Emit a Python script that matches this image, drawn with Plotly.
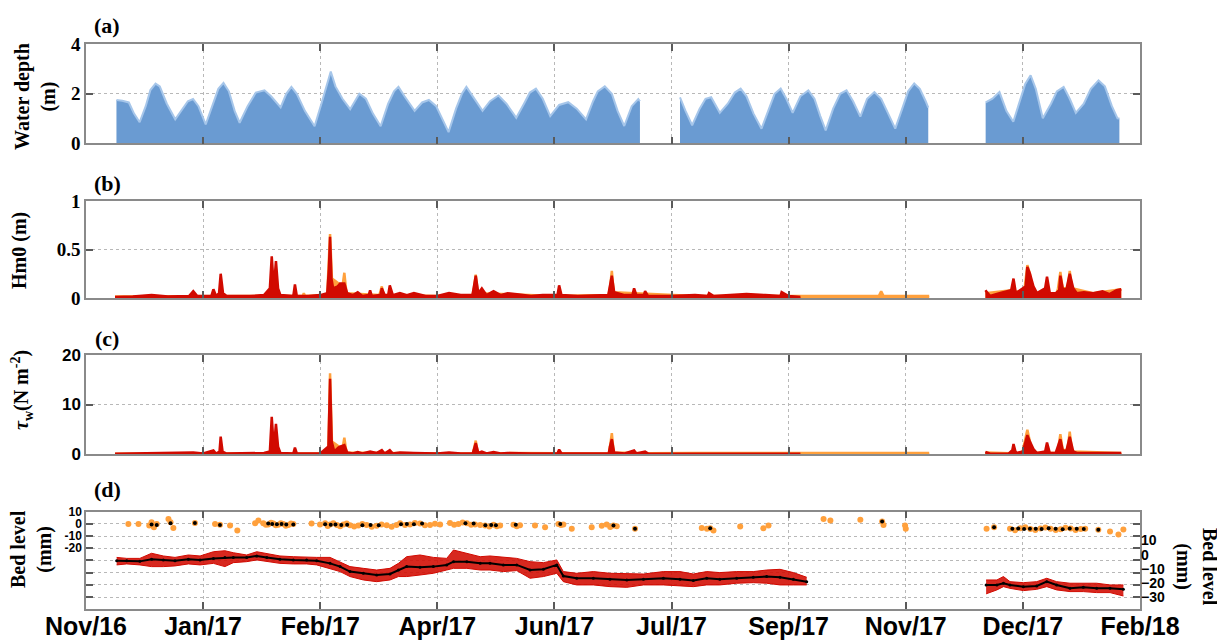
import pandas as pd
import plotly.graph_objects as go

# Time axis: days counted from 17 Nov 2016 (first MATLAB datetick), None = data gap
T0 = pd.Timestamp('2016-11-17')

TICK_DATES = ['2016-11-17', '2017-01-06', '2017-02-25', '2017-04-16', '2017-06-05',
              '2017-07-25', '2017-09-13', '2017-11-02', '2017-12-22', '2018-02-10']
TICK_LABELS = ['Nov/16', 'Jan/17', 'Feb/17', 'Apr/17', 'Jun/17',
               'Jul/17', 'Sep/17', 'Nov/17', 'Dec/17', 'Feb/18']

# (a) water depth - upper envelope of the tide record (m)
DEPTH_DAY = [13.0, 15.5, 18.3, 20.5, 22.9, 25.5, 27.5, 29.7, 31.5, 34.5, 38.1, 41.5, 43.5, 45.7, 48.0,
             51.1, 54.5, 56.5, 58.7, 61.0, 63.5, 65.6, 69.0, 72.5, 76.2, 79.0, 83.1, 85.5, 87.7, 90.0,
             93.5, 97.6, 100.5, 102.5, 104.5, 106.5, 109.5, 112.8, 116.7, 119.5, 122.5, 125.8, 129.0,
             131.5, 133.4, 136.0, 140.3, 143.5, 146.4, 149.5, 152.0, 154.8, 158.0, 160.5, 162.4,
             165.0, 169.3, 172.5, 176.1, 179.5, 183.7, 187.0, 189.5, 192.1, 195.0, 198.2, 202.0,
             205.9, 209.5, 213.5, 216.5, 218.5, 221.5, 224.5, 227.0, 229.8, 233.0, 235.8, 236.5, None,
             253.6, 256.0, 258.8, 262.0, 264.5, 266.9, 270.6, 274.0, 277.0, 279.5, 282.0, 285.0,
             288.4, 291.5, 294.0, 296.6, 299.0, 301.7, 305.0, 308.4, 311.0, 313.5, 315.8, 319.0,
             322.0, 324.7, 327.5, 330.6, 333.5, 336.6, 339.5, 342.5, 345.5, 348.5, 351.0, 353.6,
             356.0, 358.5, 359.6, None,
             384.1, 387.0, 390.0, 393.0, 395.9, 399.0, 401.0, 403.3, 405.5, 408.5, 412.0, 414.5,
             417.4, 420.0, 422.6, 426.0, 429.0, 432.3, 435.0, 438.0, 440.4, 441.2]
DEPTH_M = [1.75, 1.72, 1.65, 1.20, 0.85, 1.50, 2.15, 2.41, 2.30, 1.60, 0.97, 1.45, 1.70, 1.79, 1.50,
           0.76, 1.70, 2.20, 2.44, 2.10, 1.30, 0.83, 1.50, 2.05, 2.14, 1.90, 1.45, 2.00, 2.28, 2.00,
           1.30, 0.69, 1.60, 2.30, 2.90, 2.30, 1.80, 1.38, 2.00, 1.80, 1.20, 0.69, 1.60,
           2.10, 2.28, 1.90, 1.31, 1.65, 1.75, 1.50, 1.00, 0.45, 1.40, 2.00, 2.28,
           1.90, 1.31, 1.70, 1.93, 1.60, 1.03, 1.60, 2.05, 2.21, 1.80, 1.10, 1.55,
           1.66, 1.40, 0.97, 1.70, 2.10, 2.30, 2.00, 1.30, 0.70, 1.50, 1.79, 1.70, None,
           1.86, 1.30, 0.73, 1.40, 1.80, 1.86, 1.23, 1.60, 2.05, 2.21, 1.90, 1.20,
           0.59, 1.40, 2.00, 2.21, 1.80, 1.23, 1.90, 2.14, 1.80, 1.10, 0.52, 1.40,
           2.00, 2.14, 1.70, 1.08, 1.80, 2.07, 1.80, 1.20, 0.59, 1.40, 2.10, 2.42,
           2.20, 1.70, 1.44, None,
           1.65, 1.80, 2.07, 1.30, 0.87, 1.80, 2.40, 2.75, 2.20, 1.01, 1.60, 2.10,
           2.28, 1.80, 1.23, 1.60, 2.20, 2.54, 2.30, 1.50, 1.01, 1.00]

# (b) significant wave height Hm0 (m)
HM0_RED_DAY = [12.4, 20, 28, 35, 44, 45.8, 47.5, 53.5, 54.4, 55.5, 56.8, 57.5, 58.5, 60, 70, 76,
               78.5, 79.3, 80.2, 81.1, 82, 83, 88.5, 89.2, 90, 95, 100, 103, 103.7, 104.2, 104.8,
               105.5, 107.5, 108.5, 110.3, 111.5, 114, 116, 118, 120.7, 121.3, 122, 125.7, 126.3,
               127.5, 129, 129.7, 131, 134, 137, 140, 145, 150, 155, 160, 165, 165.5, 166.4, 167.5,
               169, 171, 174, 177, 180, 184, 190, 195, 201.3, 202, 203, 210, 220, 223, 223.5, 224.5,
               225.5, 230, 233.3, 234, 235, 238.2, 238.7, 240, 250, 260, 265.5, 266, 268, 275, 282,
               290, 296.5, 297, 300, 305, None,
               384, 386, 390, 395, 396, 397, 400, 401.2, 401.9, 403, 404.5, 406, 409.5, 410.3, 411.5,
               414, 415.5, 416, 417, 418.5, 420, 421.5, 423, 426, 430, 434, 437, 440, 442]
HM0_RED = [0.01, 0.015, 0.03, 0.015, 0.02, 0.07, 0.02, 0.02, 0.09, 0.02, 0.05, 0.25, 0.05, 0.02, 0.02, 0.03,
           0.10, 0.43, 0.10, 0.38, 0.10, 0.03, 0.02, 0.14, 0.02, 0.02, 0.03, 0.05, 0.30, 0.63, 0.20,
           0.10, 0.12, 0.15, 0.15, 0.05, 0.03, 0.06, 0.02, 0.03, 0.08, 0.02, 0.03, 0.10,
           0.03, 0.03, 0.13, 0.03, 0.05, 0.03, 0.05, 0.02, 0.02, 0.05, 0.03, 0.03, 0.10, 0.23, 0.05,
           0.10, 0.03, 0.07, 0.03, 0.05, 0.04, 0.02, 0.03, 0.03, 0.13, 0.03, 0.02, 0.03, 0.03, 0.10, 0.23,
           0.06, 0.03, 0.03, 0.10, 0.03, 0.03, 0.07, 0.02, 0.02, 0.03, 0.02, 0.05, 0.02, 0.03, 0.04,
           0.03, 0.02, 0.06, 0.02, 0.01, None,
           0.08, 0.02, 0.05, 0.08, 0.20, 0.05, 0.10, 0.12, 0.32, 0.25, 0.12, 0.05, 0.10, 0.22, 0.05,
           0.05, 0.08, 0.23, 0.10, 0.08, 0.25, 0.10, 0.05, 0.06, 0.05, 0.07, 0.04, 0.08, 0.09]
HM0_ORANGE_DAY = [12.4, 40, 70, 92.5, 93, 93.5, 103, 103.5, 104.2, 105, 109.5, 110.3, 111.2, 125, 125.5,
                  126.3, 127, 150, 165, 165.6, 166.4, 167.3, 200, 223, 223.7, 224.5, 225.3, 260, 300,
                  310, 320, 330, 338.5, 339.5, 340.5, 350, 360, None,
                  384, 395, 400.5, 401, 401.9, 403, 404, 414.5, 415, 416, 417, 419, 420, 421, 430, 442]
HM0_ORANGE = [0.015, 0.02, 0.02, 0.02, 0.05, 0.02, 0.03, 0.30, 0.66, 0.20, 0.12, 0.26, 0.05, 0.03, 0.05,
              0.12, 0.03, 0.02, 0.03, 0.10, 0.24, 0.05, 0.02, 0.03, 0.10, 0.28, 0.06, 0.02, 0.02,
              0.02, 0.02, 0.02, 0.02, 0.07, 0.02, 0.02, 0.02, None,
              0.05, 0.08, 0.05, 0.15, 0.34, 0.25, 0.05, 0.05, 0.10, 0.27, 0.10, 0.10, 0.28, 0.10, 0.05, 0.09]

# (c) wave bed shear stress tau_w (N m-2)
TAU_RED_DAY = [12.4, 25, 40, 45.8, 50, 54.4, 55.5, 57, 57.5, 58.3, 60, 70, 76, 78.5, 79.3, 80.2, 81.1,
               82, 83, 88.5, 89.2, 90, 100, 103.5, 104.2, 104.9, 106, 107.8, 108.5, 110.3, 111.5,
               114, 116, 118, 121.3, 124, 126.3, 127.5, 129.7, 131, 134, 140, 150, 155, 160, 165.1,
               165.6, 166.4, 167.5, 169, 171, 174, 177, 180, 190, 201.3, 202, 203, 210, 223.2, 223.7,
               224.5, 225.5, 230, 234, 235, 238.7, 240, 250, 270, 300, 305, None,
               384, 386, 394, 395.5, 396, 397, 400, 401.9, 403, 404.5, 406, 409.5, 410.3, 411.5,
               414, 416, 417, 418.5, 420, 421.5, 423, 428, 434, 440, 442]
TAU_RED = [0.05, 0.1, 0.15, 0.3, 0.1, 0.7, 0.1, 0.5, 3.5, 0.5, 0.1, 0.1, 0.2, 0.5, 7.5, 1.0, 6.1,
           1.5, 0.2, 0.1, 1.3, 0.1, 0.1, 1.5, 15.2, 2.5, 0.5, 1.3, 1.5, 1.8, 0.3,
           0.1, 0.4, 0.1, 0.5, 0.2, 0.8, 0.1, 0.8, 0.1, 0.3, 0.2, 0.1, 0.3, 0.1, 0.1,
           1.0, 2.2, 0.2, 0.5, 0.1, 0.4, 0.1, 0.2, 0.1, 0.1, 0.9, 0.1, 0.1, 0.1, 1.5,
           3.0, 0.3, 0.1, 0.7, 0.1, 0.5, 0.1, 0.05, 0.1, 0.1, 0.05, None,
           0.4, 0.05, 0.1, 0.8, 2.0, 0.2, 0.5, 3.8, 2.5, 1.0, 0.2, 0.5, 2.3, 0.2,
           0.2, 3.0, 0.8, 0.5, 3.5, 0.5, 0.2, 0.2, 0.3, 0.3, 0.2]
TAU_ORANGE_DAY = [12.4, 40, 70, 103.0, 103.5, 104.2, 105, 109.5, 110.3, 111.2, 150, 165.1, 165.6, 166.4,
                  167.3, 200, 223.2, 223.7, 224.5, 225.3, 240, 260, 280, 300, 320, 340, 360, None,
                  384, 399.5, 400, 401.9, 403, 404, 414.5, 415, 416, 417, 419, 420, 421, 442]
TAU_ORANGE = [0.05, 0.1, 0.1, 0.1, 1.5, 16.3, 2.5, 1.0, 3.3, 0.3, 0.1, 0.1, 1.0, 2.7,
              0.2, 0.1, 0.1, 1.5, 4.2, 0.3, 0.15, 0.2, 0.2, 0.2, 0.2, 0.2, 0.2, None,
              0.3, 0.1, 0.8, 4.9, 2.5, 0.3, 0.2, 0.8, 4.0, 0.8, 0.8, 4.5, 0.5, 0.2]

# (d) bed level, upper site (left axis, mm): single readings and daily means
BED_ORANGE_DAY = [18.1, 22.4, 27.0, 28.0, 29.0, 30.2, 35.2, 36.1, 37.3, 46.5, 55.1, 57.2, 61.5, 64.6,
                  72.2, 73.6, 75.7, 76.8, 77.8, 79.0, 80.0, 81.0, 82.1, 83.2, 84.2, 85.3, 86.4, 87.5,
                  88.5, 96.3, 99.9, 102.1, 103.2, 104.2, 105.6, 107.1, 108.5, 109.9, 111.3, 112.7,
                  114.5, 116.3, 118.0, 119.8, 122.0, 124.1, 126.2, 128.4, 130.5, 132.6, 134.1, 136.2,
                  138.3, 140.4, 142.6, 144.7, 146.9, 149.0, 151.2, 155.4, 157.2, 159.0, 160.8, 162.6,
                  164.4, 166.1, 168.3, 170.4, 172.2, 174.0, 175.4, 176.8, 182.5, 183.9, 185.3, 191.7,
                  196.0, 201.7, 202.8, 203.8, 207.4, 215.9, 220.2, 222.3, 223.8, 225.2, 226.6, 234.4,
                  262.9, 265.1, 266.5, 267.9, 279.3, 289.2, 291.4, 314.9, 317.8, 330.6, 339.9, 340.5,
                  349.7, 350.0, 384.5, 387.7, 394.5, 396.7, 398.9, 401.0, 403.2, 405.3, 407.5, 409.6,
                  411.8, 414.0, 416.1, 418.2, 420.4, 422.5, 424.7, 426.6, 432.2, 437.2, 440.8, 442.9]
BED_ORANGE = [0.0, 0.0, -1.4, 1.3, -2.7, 0.0, 4.0, 1.3, -3.3, 0.8, 0.0, -0.8, -1.4, -5.4,
              0.5, 2.7, 0.5, -0.8, -0.5, 1.0, 0.3, -1.2, -0.8, 0.6, 0.0, -1.5, -1.0, 0.4,
              0.0, 0.3, -0.5, 0.5, -1.8, -0.5, 0.6, -1.0, -2.0, -0.5, 0.3, -1.2,
              -2.2, -1.4, 0.0, -1.0, -2.4, -1.5, -0.4, -1.2, -2.3, -1.0, 0.5, -1.0,
              -0.5, 0.8, 0.3, -1.2, -1.0, 0.2, -0.5, 0.8, -0.8, 0.0, 1.2, 0.5,
              -0.8, -0.5, -1.0, -1.4, -2.2, -0.8, -2.0, -1.4, -0.8, -2.0, -1.2, -1.4,
              -2.7, 0.0, -1.0, -0.5, -4.0, -2.7, -1.5, -0.5, -2.6, -1.4, -2.0, -4.0,
              -3.3, -4.0, -3.5, -5.4, -2.2, -3.5, -1.4, 4.0, 2.7, 3.3, 1.9, -1.0,
              -1.4, -4.0, -4.0, -2.7, -4.0, -5.2, -3.5, -2.8, -4.2, -5.0, -3.8, -2.9,
              -4.0, -5.1, -4.5, -3.2, -3.8, -5.0, -4.2, -4.0, -4.9, -6.2, -8.7, -4.6]
BED_ORANGE_MEAN_DAY = [28.0, 30.2, 36.1, 46.5, 57.2, 77.8, 79.5, 81.5, 83.5, 85.5, 88.5, 102.1, 104.5,
                       106.5, 109.0, 111.5, 118.0, 121.5, 125.0, 134.5, 137.0, 140.0, 143.5, 162.0,
                       165.5, 170.5, 173.0, 175.0, 183.5, 202.5, 225.2, 234.4, 266.5, 339.9, 387.7,
                       395.5, 398.0, 400.5, 403.0, 405.5, 408.0, 411.0, 414.0, 417.0, 420.0, 423.0,
                       426.0, 432.2]
BED_ORANGE_MEAN = [-0.5, -1.0, 0.5, 0.8, -1.0, 0.3, 0.0, -0.3, 0.0, -0.5, -0.5, -0.3, -0.8,
                   -0.5, -1.0, -0.8, -1.2, -1.0, -1.2, -0.3, 0.0, -0.3, 0.3, 0.5,
                   0.3, -1.2, -1.0, -1.2, -0.8, 0.0, -1.4, -4.0, -3.5, 1.9, -2.7,
                   -4.0, -3.8, -4.2, -4.0, -3.9, -4.1, -3.6, -4.0, -4.3, -3.8, -4.0,
                   -4.2, -4.9]

# (d) bed level, lower site (right axis, mm): daily mean with spread of single readings
BED_RED_DAY = [13.1, 17.4, 23.0, 28.0, 33.0, 38.0, 43.7, 48.7, 54.4, 59.3, 62.9, 68.6, 72.9, 77.2,
               82.8, 88.5, 94.2, 98.5, 104.2, 108.5, 112.7, 118.4, 124.1, 129.8, 133.4, 136.9,
               142.6, 148.3, 154.0, 156.9, 162.6, 168.3, 172.5, 178.2, 183.9, 189.6, 195.3, 201.0,
               203.8, 209.5, 216.6, 223.7, 230.9, 238.0, 246.5, 253.6, 259.3, 265.0, 270.6, 277.8,
               284.9, 290.6, 296.3, 302.0, 307.7, None,
               384.3, 388.9, 391.7, 394.5, 400.2, 405.9, 410.2, 414.4, 420.1, 425.8, 431.5, 437.2,
               442.9]
BED_RED_MEAN = [-4.2, -4.2, -4.7, -3.2, -3.7, -4.2, -3.2, -3.7, -2.6, -1.9, -1.9, -1.9, -0.9, -1.9,
                -3.2, -3.7, -3.7, -4.2, -6.1, -8.4, -11.9, -13.1, -14.3, -13.6, -10.8, -8.4,
                -8.9, -8.4, -7.2, -4.9, -4.9, -6.1, -6.1, -7.2, -7.2, -10.8, -10.3, -7.2,
                -15.0, -16.6, -16.6, -17.3, -17.8, -17.3, -16.6, -17.3, -18.2, -16.6, -17.3, -16.6,
                -15.9, -15.4, -15.9, -17.3, -19.0, None,
                -21.3, -21.3, -20.1, -21.3, -22.5, -22.0, -19.0, -21.3, -23.7, -23.0, -23.7, -23.7,
                -24.4]
BED_RED_LOW = [-7.2, -6.5, -7.2, -8.4, -8.4, -7.9, -6.5, -7.2, -6.1, -8.4, -5.6, -4.9, -3.7, -4.9,
               -6.1, -6.5, -6.5, -7.2, -9.6, -11.9, -15.4, -17.8, -19.0, -17.8, -15.4, -15.4,
               -14.3, -13.1, -10.8, -9.6, -9.6, -10.8, -10.8, -11.9, -11.2, -16.6, -15.4, -13.1,
               -19.0, -21.3, -21.3, -22.5, -23.0, -21.3, -21.3, -22.0, -22.5, -21.3, -21.3, -20.1,
               -19.7, -20.1, -21.3, -21.3, -21.3, None,
               -27.6, -24.8, -22.5, -23.7, -25.3, -24.4, -22.5, -24.8, -26.0, -26.0, -26.7, -26.7,
               -29.1]
BED_RED_HIGH = [-1.9, -2.6, -2.6, 1.0, -0.9, -1.9, -0.2, -0.9, 2.1, 2.8, 1.4, -0.2, 2.1, 1.0,
                -0.9, -1.4, -1.9, -1.9, -1.9, -4.9, -8.4, -9.6, -10.8, -9.6, -6.1, -1.4,
                -0.2, -1.9, -2.6, 3.3, 1.0, -1.4, -0.9, -1.9, -2.6, -4.9, -5.6, -3.7,
                -11.9, -13.1, -11.9, -13.1, -13.6, -13.6, -11.9, -11.9, -13.6, -11.9, -12.6, -11.9,
                -11.9, -10.8, -10.3, -12.6, -15.9, None,
                -17.8, -17.8, -15.4, -19.0, -19.7, -19.0, -16.6, -19.0, -20.1, -20.1, -20.1, -21.3,
                -21.3]

BLUE = '#6a9bd2'
BLUE_EDGE = '#a6c6ea'
RED = '#d10a00'
ORANGE = '#ffa03c'


def to_dates(days):
    return [None if d is None else T0 + pd.Timedelta(days=d) for d in days]


def pieces(days):
    # index lists of the continuous stretches between None gaps
    out, cur = [], []
    for i, d in enumerate(days):
        if d is None:
            if cur:
                out.append(cur)
            cur = []
        else:
            cur.append(i)
    if cur:
        out.append(cur)
    return out


fig = go.Figure()

# (a) water depth
for idx in pieces(DEPTH_DAY):
    fig.add_trace(go.Scatter(x=to_dates([DEPTH_DAY[i] for i in idx]), y=[DEPTH_M[i] for i in idx],
                             mode='lines', fill='tozeroy', fillcolor=BLUE,
                             line=dict(color=BLUE_EDGE, width=2), xaxis='x', yaxis='y'))

# (b) Hm0 and (c) tau_w: orange under red
for days, vals, col, ax in [(HM0_ORANGE_DAY, HM0_ORANGE, ORANGE, '2'), (HM0_RED_DAY, HM0_RED, RED, '2'),
                            (TAU_ORANGE_DAY, TAU_ORANGE, ORANGE, '3'), (TAU_RED_DAY, TAU_RED, RED, '3')]:
    for idx in pieces(days):
        fig.add_trace(go.Scatter(x=to_dates([days[i] for i in idx]), y=[vals[i] for i in idx],
                                 mode='lines', fill='tozeroy', fillcolor=col,
                                 line=dict(color=col, width=2.5), xaxis='x' + ax, yaxis='y' + ax))

# (d) upper site, left axis
fig.add_trace(go.Scatter(x=to_dates(BED_ORANGE_DAY), y=BED_ORANGE, mode='markers',
                         marker=dict(color=ORANGE, size=6), xaxis='x4', yaxis='y4'))
fig.add_trace(go.Scatter(x=to_dates(BED_ORANGE_MEAN_DAY), y=BED_ORANGE_MEAN, mode='markers',
                         marker=dict(color='black', size=4), xaxis='x4', yaxis='y4'))

# (d) lower site, right axis
for idx in pieces(BED_RED_DAY):
    xs = to_dates([BED_RED_DAY[i] for i in idx])
    fig.add_trace(go.Scatter(x=xs, y=[BED_RED_LOW[i] for i in idx], mode='lines',
                             line=dict(color=RED, width=1), xaxis='x4', yaxis='y5'))
    fig.add_trace(go.Scatter(x=xs, y=[BED_RED_HIGH[i] for i in idx], mode='lines', fill='tonexty',
                             fillcolor='rgba(209,10,0,0.88)', line=dict(color=RED, width=1),
                             xaxis='x4', yaxis='y5'))
    fig.add_trace(go.Scatter(x=xs, y=[BED_RED_MEAN[i] for i in idx], mode='lines+markers',
                             line=dict(color='black', width=2), marker=dict(color='black', size=3),
                             xaxis='x4', yaxis='y5'))

# layout - positions are page pixels of the 1225x644 window; the page body adds an 8 px margin
W, H, OFF = 1217, 636, 8


def px(x):
    return (x - OFF) / W


def py(y):
    return 1 - (y - OFF) / H


X_DOM = [px(86), px(1140)]
BOXES = [(44.3, 143.3), (201, 298), (355, 454), (511.7, 609.2)]


def ydom(top, bot):
    return [py(bot), py(top)]


serif = 'Liberation Serif, Times New Roman, serif'
sans = 'Liberation Sans, Arial, sans-serif'

xbase = dict(type='date', range=['2016-11-17', '2018-02-10'], tickvals=TICK_DATES, ticktext=TICK_LABELS,
             showgrid=True, gridcolor='#b8b8b8', griddash='dot', gridwidth=1,
             ticks='inside', ticklen=7, tickwidth=1.5, tickcolor='#5a5a5a',
             showline=True, linecolor='#8a8a8a', linewidth=1.5, mirror='ticks', zeroline=False,
             domain=X_DOM, automargin=False)
ybase = dict(showgrid=True, gridcolor='#b8b8b8', griddash='dot', gridwidth=1,
             ticks='inside', ticklen=7, tickwidth=1.5, tickcolor='#5a5a5a',
             showline=True, linecolor='#8a8a8a', linewidth=1.5, mirror='ticks', zeroline=False,
             automargin=False)

fig.update_layout(
    width=W, height=H, margin=dict(l=0, r=0, t=0, b=0, autoexpand=False),
    plot_bgcolor='white', paper_bgcolor='white', showlegend=False,
    xaxis=dict(xbase, anchor='y', showticklabels=False),
    xaxis2=dict(xbase, anchor='y2', showticklabels=False),
    xaxis3=dict(xbase, anchor='y3', showticklabels=False),
    xaxis4=dict(xbase, anchor='y4', showticklabels=True, ticklabelstandoff=-6,
                tickfont=dict(family=sans, size=25, color='black', weight='bold')),
    yaxis=dict(ybase, anchor='x', domain=ydom(*BOXES[0]), range=[0, 4], tickvals=[0, 2, 4],
               tickfont=dict(family=serif, size=19, color='black', weight='bold')),
    yaxis2=dict(ybase, anchor='x2', domain=ydom(*BOXES[1]), range=[0, 1], tickvals=[0, 0.5, 1],
                tickfont=dict(family=serif, size=19, color='black', weight='bold')),
    yaxis3=dict(ybase, anchor='x3', domain=ydom(*BOXES[2]), range=[0, 20], tickvals=[0, 10, 20],
                tickfont=dict(family=sans, size=17, color='black', weight='bold')),
    yaxis4=dict(ybase, anchor='x4', domain=ydom(*BOXES[3]), range=[-70, 10],
                tickvals=[-60, -50, -40, -30, -20, -10, 0, 10],
                ticktext=['', '', '', '', '-20', '-10', '0', '10'],
                tickfont=dict(family=sans, size=12, color='black', weight='bold')),
    yaxis5=dict(overlaying='y4', side='right', anchor='x4', range=[-38.4, 30.3],
                tickvals=[-30, -20, -10, 0, 10], showgrid=False, zeroline=False, showline=False,
                ticks='', automargin=False,
                tickfont=dict(family=sans, size=14, color='black', weight='bold')),
)

# panel letters and axis titles
tfont = dict(family=serif, size=20, color='black', weight='bold')
for letter, yc in [('(a)', 26), ('(b)', 183), ('(c)', 338), ('(d)', 489)]:
    fig.add_annotation(text=letter, x=px(107), y=py(yc), xref='paper', yref='paper',
                       xanchor='center', yanchor='middle', showarrow=False,
                       font=dict(family=serif, size=22, color='black', weight='bold'))

titles = [('Water depth<br>(m)', 35, 97, -90), ('Hm0 (m)', 20, 251, -90),
          ('<i>τ</i><sub>w</sub>(N m<sup>-2</sup>)', 22, 390, -90),
          ('Bed level<br>(mm)', 31, 549, -90), ('Bed level<br>(mm)', 1197, 567, 90)]
for text, xc, yc, ang in titles:
    fig.add_annotation(text=text, x=px(xc), y=py(yc), xref='paper', yref='paper',
                       xanchor='center', yanchor='middle', textangle=ang, showarrow=False, font=tfont)

fig.write_html('out.html')
